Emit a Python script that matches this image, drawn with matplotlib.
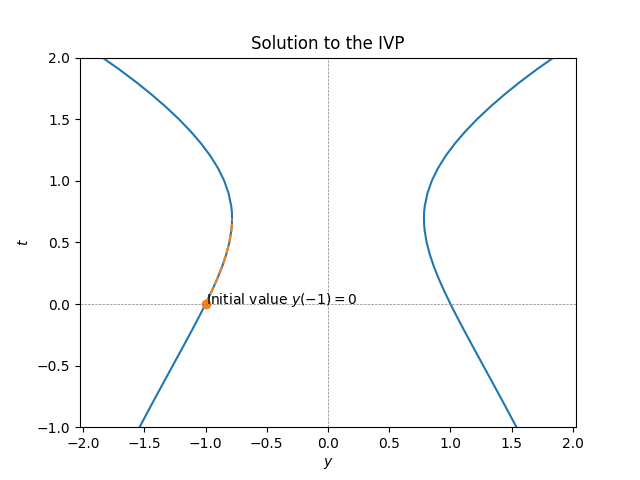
import matplotlib
matplotlib.use("Agg")
import matplotlib.pyplot as plt

# t values and the positive y solution
t_vals = [-1.0, -0.9, -0.8, -0.7, -0.6, -0.5, -0.4, -0.3, -0.2, -0.1, 0.0,
          0.1, 0.2, 0.3, 0.4, 0.5, 0.6, 0.65, 0.693, 0.75, 0.8, 0.9, 1.0,
          1.1, 1.2, 1.3, 1.4, 1.5, 1.6, 1.7, 1.8, 1.9, 2.0]
y_right = [1.5388, 1.4855, 1.4315, 1.3772, 1.3224, 1.2675, 1.2126, 1.1579,
           1.1040, 1.0511, 1.0, 0.9514, 0.9063, 0.8659, 0.8318, 0.8054,
           0.7887, 0.7847, 0.7833, 0.7850, 0.7909, 0.8122, 0.8475, 0.8968,
           0.9592, 1.0341, 1.1204, 1.2173, 1.3240, 1.4401, 1.5651, 1.6988,
           1.8409]
y_left = [-1.5388, -1.4855, -1.4315, -1.3772, -1.3224, -1.2675, -1.2126,
          -1.1579, -1.1040, -1.0511, -1.0, -0.9514, -0.9063, -0.8659,
          -0.8318, -0.8054, -0.7887, -0.7847, -0.7833, -0.7850, -0.7909,
          -0.8122, -0.8475, -0.8968, -0.9592, -1.0341, -1.1204, -1.2173,
          -1.3240, -1.4401, -1.5651, -1.6988, -1.8409]

# solution segment from the initial value to the turning point
sol_t = [0.0, 0.1, 0.2, 0.3, 0.4, 0.5, 0.6, 0.65, 0.693]
sol_y = [-1.0, -0.9514, -0.9063, -0.8659, -0.8318, -0.8054, -0.7887, -0.7847, -0.7833]

init_y = -1
init_t = 0

fig, ax = plt.subplots(figsize=(6.4, 4.8), dpi=100)
ax.plot(y_left, t_vals, color='C0')
ax.plot(y_right, t_vals, color='C0')
ax.plot(sol_y, sol_t, color='C1', linestyle='--')
ax.plot([init_y], [init_t], 'o', color='C1')
ax.text(init_y, init_t, 'Initial value $y(-1)=0$')
ax.axhline(0, color='gray', linestyle='--', linewidth=0.5)
ax.axvline(0, color='gray', linestyle='--', linewidth=0.5)
ax.set_ylim(-1, 2)
ax.set_xlabel('$y$')
ax.set_ylabel('$t$')
ax.set_title('Solution to the IVP')
fig.savefig('out.png')
